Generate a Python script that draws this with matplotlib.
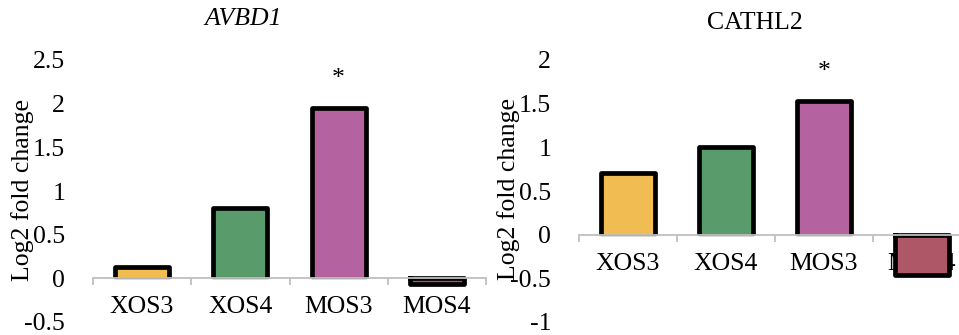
import matplotlib
matplotlib.use("Agg")
import matplotlib.pyplot as plt
from matplotlib.ticker import FixedLocator, FuncFormatter

plt.rcParams['font.family'] = ['Liberation Serif', 'DejaVu Serif']
plt.rcParams['axes.unicode_minus'] = False

categories = ["XOS3", "XOS4", "MOS3", "MOS4"]
avbd1_values = [0.13, 0.80, 1.95, -0.06]
cathl2_values = [0.71, 1.00, 1.53, -0.46]
significant = [False, False, True, False]
colors = ["#F1BD52", "#5A9B6C", "#B462A0", "#AE5766"]

avbd1_ticks = [-0.5, 0, 0.5, 1, 1.5, 2, 2.5]
cathl2_ticks = [-1, -0.5, 0, 0.5, 1, 1.5, 2]

W, H = 959, 335
fig = plt.figure(figsize=(W / 100, H / 100), dpi=100)
FS = 18.5

def px_axes(x0, x1, y_top, y_bot):
    return [x0 / W, (H - y_bot) / H, (x1 - x0) / W, (y_bot - y_top) / H]

def draw_panel(ax, values, yticks):
    n = len(values)
    xs = list(range(n))
    w = 0.55
    ax.bar(xs, values, width=w, color=colors, edgecolor='none', zorder=2)
    for x, v in zip(xs, values):
        x0, x1 = x - w / 2, x + w / 2
        if v >= 0:
            ax.plot([x0, x0, x1, x1], [0, v, v, 0], color='black', lw=3.4,
                    solid_joinstyle='round', solid_capstyle='butt', zorder=2.2)
            ax.plot([x0, x1], [0, 0], color='#444444', lw=1.0, zorder=2.1,
                    transform=ax.transData)
        else:
            ax.plot([x0, x0, x1, x1, x0], [0, v, v, 0, 0], color='black', lw=3.4,
                    solid_joinstyle='round', zorder=2.2)
    for x, v, s in zip(xs, values, significant):
        if s:
            ax.annotate("*", (x, v), xytext=(0, 13), textcoords='offset points',
                        ha='center', va='bottom', fontsize=FS)
    ax.set_xlim(-0.5, n - 0.5)
    ax.set_ylim(yticks[0], yticks[-1])
    for side in ['top', 'right', 'left']:
        ax.spines[side].set_visible(False)
    ax.spines['bottom'].set_position(('data', 0))
    ax.spines['bottom'].set_color('#BFBFBF')
    ax.spines['bottom'].set_linewidth(1.3)
    ax.spines['bottom'].set_zorder(2.5)
    ax.xaxis.set_major_locator(FixedLocator([i - 0.5 for i in range(n + 1)]))
    ax.xaxis.set_major_formatter(FuncFormatter(lambda v, p: ""))
    ax.xaxis.set_minor_locator(FixedLocator(xs))
    ax.set_xticklabels(categories, minor=True)
    ax.tick_params(axis='x', which='major', direction='out', length=5,
                   width=1.3, color='#BFBFBF')
    ax.tick_params(axis='x', which='minor', length=0, pad=13, labelsize=FS)
    ax.xaxis.set_zorder(1.5)
    ax.set_yticks(yticks)
    ax.yaxis.set_major_formatter(FuncFormatter(lambda v, p: "%g" % v))
    ax.tick_params(axis='y', length=0, pad=20, labelsize=FS)
    ax.set_facecolor('none')

ax1 = fig.add_axes(px_axes(93, 486, 60, 322))
draw_panel(ax1, avbd1_values, avbd1_ticks)
ax2 = fig.add_axes(px_axes(579, 971, 60, 322))
draw_panel(ax2, cathl2_values, cathl2_ticks)

fig.text(243 / W, 1 - 19 / H, "AVBD1", style='italic', fontsize=FS,
         ha='center', va='center')
fig.text(755 / W, 1 - 23 / H, "CATHL2", fontsize=FS, ha='center', va='center')
fig.text(23 / W, 1 - 190 / H, "Log2 fold change", rotation=90, fontsize=FS,
         ha='center', va='center')
fig.text(509 / W, 1 - 189 / H, "Log2 fold change", rotation=90, fontsize=FS,
         ha='center', va='center')

fig.savefig("out.png", dpi=100)
